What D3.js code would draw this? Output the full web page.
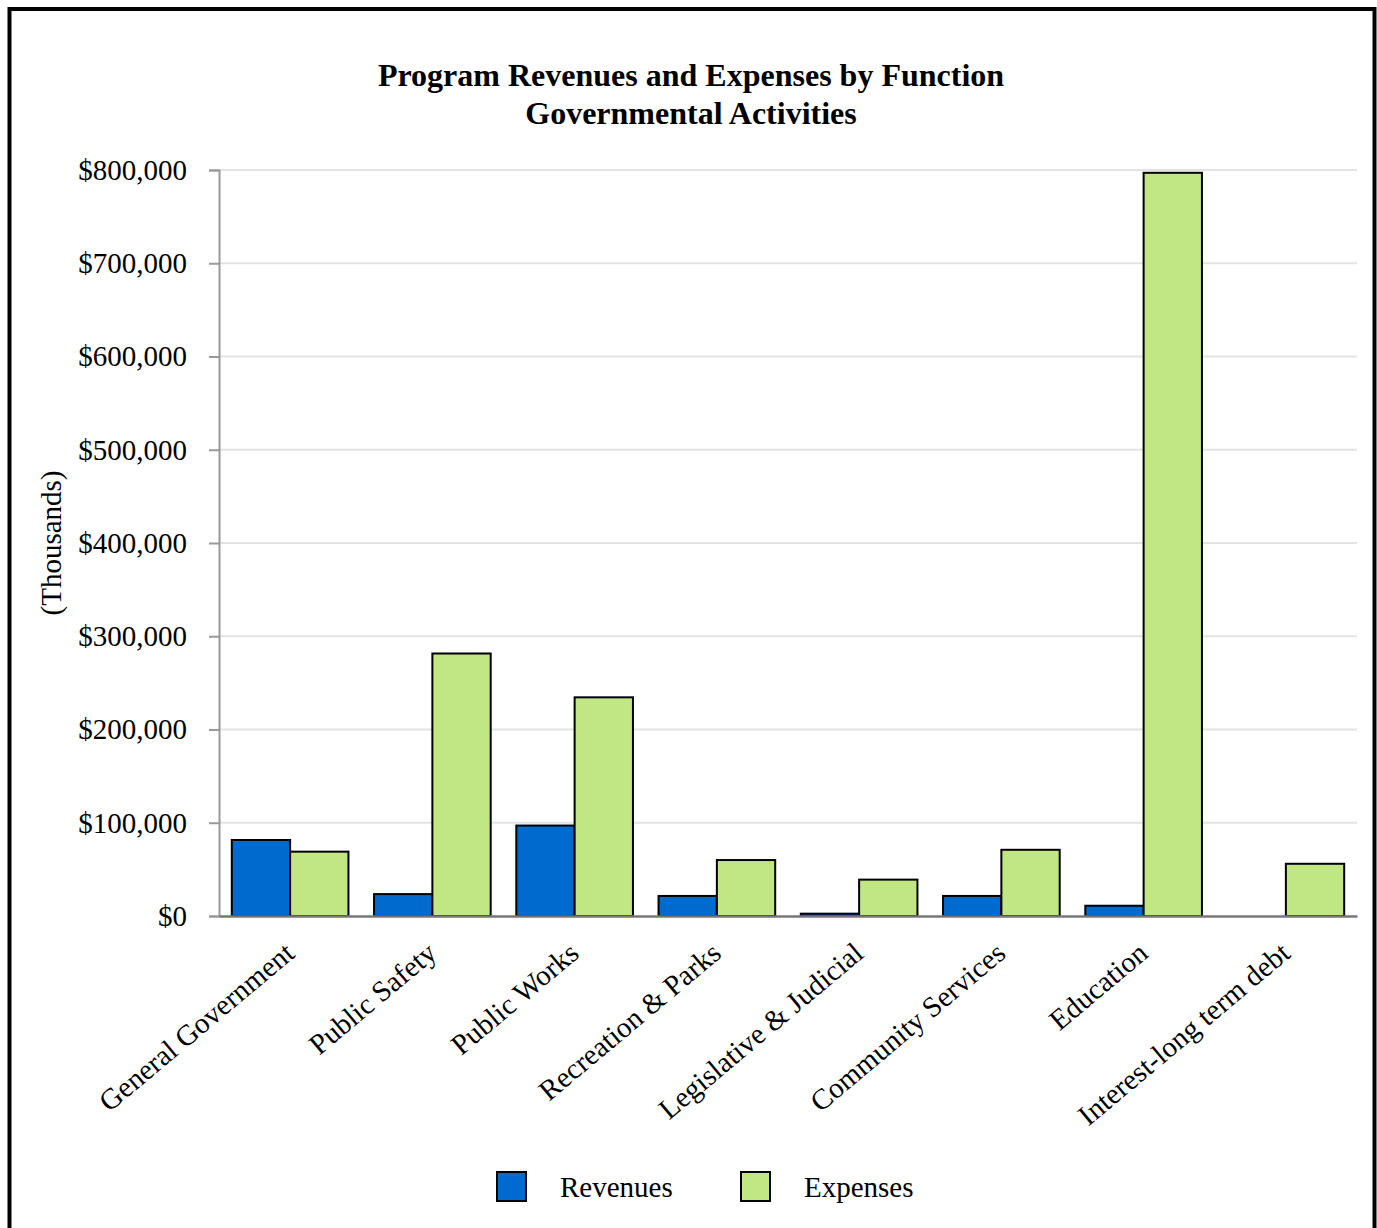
<!DOCTYPE html>
<html>
<head>
<meta charset="utf-8">
<script src="https://cdn.jsdelivr.net/npm/d3@7"></script>
<style>
  body { margin: 0; background: #fff; }
  svg text { font-family: "Liberation Serif", "Times New Roman", serif; }
</style>
</head>
<body>
<div id="chart"></div>
<script>
// chart data (thousands of dollars)
const categories = ["General Government", "Public Safety", "Public Works", "Recreation & Parks",
  "Legislative & Judicial", "Community Services", "Education", "Interest-long term debt"];
const revenues = [81500, 23500, 97000, 21500, 2500, 21500, 11000, 0];
const expenses = [69000, 281500, 234500, 60000, 39000, 71000, 797000, 56000];
const seriesNames = ["Revenues", "Expenses"];
const yTicks = [0, 100000, 200000, 300000, 400000, 500000, 600000, 700000, 800000];

const width = 1377;
const height = 1228;
const margin = {top: 170, left: 219, right: 20, bottom: 312};
const colors = ["#006ACD", "#C0E784"];

const svg = d3.select("#chart")
  .append("svg")
    .attr("width", width)
    .attr("height", height);

// outer frame
svg.append("rect")
  .attr("x", 9.5)
  .attr("y", 9)
  .attr("width", 1365)
  .attr("height", 1240)
  .attr("fill", "none")
  .attr("stroke", "black")
  .attr("stroke-width", 4);

// title
svg.append("text")
  .attr("x", 691)
  .attr("y", 86)
  .attr("text-anchor", "middle")
  .style("font-size", "32px")
  .style("font-weight", "bold")
  .text("Program Revenues and Expenses by Function");

svg.append("text")
  .attr("x", 691)
  .attr("y", 124)
  .attr("text-anchor", "middle")
  .style("font-size", "32px")
  .style("font-weight", "bold")
  .text("Governmental Activities");

const x = d3.scaleBand()
  .domain(categories)
  .range([margin.left, width - margin.right])
  .paddingInner(0.18)
  .paddingOuter(0.09);

const x1 = d3.scaleBand()
  .domain(seriesNames)
  .range([0, x.bandwidth()]);

const y = d3.scaleLinear()
  .domain([0, 800000])
  .range([height - margin.bottom, margin.top]);

// gridlines
svg.append("g")
  .selectAll("line")
  .data(yTicks.slice(1))
  .join("line")
    .attr("x1", margin.left)
    .attr("x2", width - margin.right)
    .attr("y1", d => y(d))
    .attr("y2", d => y(d))
    .attr("stroke", "#e3e3e3")
    .attr("stroke-width", 2);

// y axis
const yAxis = svg.append("g")
  .attr("transform", `translate(${margin.left},0)`)
  .call(d3.axisLeft(y)
    .tickValues(yTicks)
    .tickSize(10)
    .tickPadding(22)
    .tickFormat(d => "$" + d3.format(",")(d)));

yAxis.select(".domain").attr("stroke", "#999").attr("stroke-width", 2);
yAxis.selectAll(".tick line").attr("stroke", "#999").attr("stroke-width", 2);
yAxis.selectAll(".tick text")
  .style("font-size", "29px")
  .attr("fill", "black")
  .attr("font-family", "Liberation Serif");

svg.append("text")
  .attr("transform", `translate(61, ${(margin.top + height - margin.bottom) / 2}) rotate(-90)`)
  .attr("text-anchor", "middle")
  .style("font-size", "29px")
  .text("(Thousands)");

// bars
const data = categories.map((c, i) => ({cat: c, values: [revenues[i], expenses[i]]}));

const groups = svg.append("g")
  .selectAll("g")
  .data(data)
  .join("g")
    .attr("transform", d => `translate(${x(d.cat)},0)`);

groups.selectAll("rect")
  .data(d => d.values.map((v, j) => ({series: seriesNames[j], value: v, j: j})))
  .join("rect")
    .filter(d => d.value > 0)
    .attr("x", d => x1(d.series))
    .attr("y", d => y(d.value))
    .attr("width", x1.bandwidth())
    .attr("height", d => y(0) - y(d.value))
    .attr("fill", d => colors[d.j])
    .attr("stroke", "black")
    .attr("stroke-width", 2);

// x axis
const xAxis = svg.append("g")
  .attr("transform", `translate(0,${y(0)})`)
  .call(d3.axisBottom(x).tickSize(0).tickPadding(0));

xAxis.select(".domain").attr("stroke", "#777").attr("stroke-width", 2.5);
xAxis.selectAll(".tick text")
  .style("font-size", "29px")
  .attr("fill", "black")
  .attr("font-family", "Liberation Serif")
  .attr("text-anchor", "end")
  .attr("dy", null)
  .attr("y", 0)
  .attr("x", 0)
  .attr("transform", "translate(6,40) rotate(-40)");

// legend
const legend = svg.append("g")
  .selectAll("g")
  .data(seriesNames)
  .join("g")
    .attr("transform", (d, i) => `translate(${497 + i * 244},1172)`);

legend.append("rect")
  .attr("width", 29)
  .attr("height", 29)
  .attr("fill", (d, i) => colors[i])
  .attr("stroke", "black")
  .attr("stroke-width", 2);

legend.append("text")
  .attr("x", 63)
  .attr("y", 25)
  .style("font-size", "29px")
  .text(d => d);
</script>
</body>
</html>
